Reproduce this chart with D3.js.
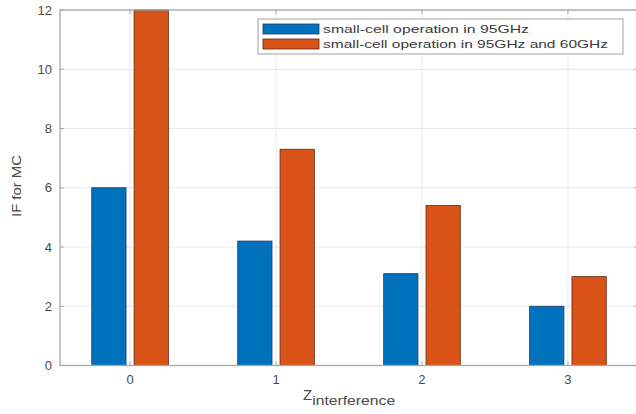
<!DOCTYPE html>
<html>
<head>
<meta charset="utf-8">
<script src="https://cdn.jsdelivr.net/npm/d3@7"></script>
<style>
  body { margin: 0; background: #fff; }
  svg { display: block; font-family: "Liberation Sans", Arial, sans-serif; }
</style>
</head>
<body>
<svg id="chart" width="636" height="414"></svg>
<script>
// data
var categories = [0, 1, 2, 3];
var seriesNames = ["small-cell operation in 95GHz", "small-cell operation in 95GHz and 60GHz"];
var only95 = [6.0, 4.2, 3.1, 2.0];
var with60 = [12.0, 7.3, 5.4, 3.0];
var yTicks = [0, 2, 4, 6, 8, 10, 12];

var colors = ["#0072BD", "#D95319"];
var edges = ["#1f3f5e", "#5e2a12"];

var svg = d3.select("#chart");

var x = d3.scaleLinear().domain([-0.48, 3.48]).range([60, 638]);
var y = d3.scaleLinear().domain([0, 12]).range([365.5, 10]);

var barW = 0.235, offs = [-0.145, 0.145];

// grid
var grid = svg.append("g").attr("class", "grid");
grid.selectAll(".hg").data(yTicks).enter().append("line")
    .attr("x1", x.range()[0]).attr("x2", x.range()[1])
    .attr("y1", d => y(d)).attr("y2", d => y(d))
    .attr("stroke", "#e8e8e8").attr("stroke-width", 1);
grid.selectAll(".vg").data(categories).enter().append("line")
    .attr("x1", d => x(d)).attr("x2", d => x(d))
    .attr("y1", y.range()[0]).attr("y2", y.range()[1])
    .attr("stroke", "#e8e8e8").attr("stroke-width", 1);

// bars
[only95, with60].forEach(function (vals, s) {
    svg.append("g").selectAll("rect")
        .data(vals)
        .enter()
        .append("rect")
        .attr("x", (d, i) => x(categories[i] + offs[s] - barW / 2))
        .attr("width", x(barW) - x(0))
        .attr("y", d => y(d))
        .attr("height", d => y(0) - y(d))
        .attr("fill", colors[s])
        .attr("stroke", edges[s])
        .attr("stroke-width", 0.8);
});

// box + inward ticks
var axisCol = "#a8a8a8";
svg.append("rect")
    .attr("x", x.range()[0]).attr("y", y.range()[1])
    .attr("width", x.range()[1] - x.range()[0])
    .attr("height", y.range()[0] - y.range()[1])
    .attr("fill", "none").attr("stroke", axisCol).attr("stroke-width", 1.3);

var ticks = svg.append("g");
yTicks.forEach(function (t) {
    ticks.append("line").attr("x1", x.range()[0]).attr("x2", x.range()[0] + 4)
        .attr("y1", y(t)).attr("y2", y(t)).attr("stroke", axisCol);
    ticks.append("line").attr("x1", x.range()[1]).attr("x2", x.range()[1] - 4)
        .attr("y1", y(t)).attr("y2", y(t)).attr("stroke", axisCol);
});
categories.forEach(function (c) {
    ticks.append("line").attr("x1", x(c)).attr("x2", x(c))
        .attr("y1", y.range()[0]).attr("y2", y.range()[0] - 4).attr("stroke", axisCol);
    ticks.append("line").attr("x1", x(c)).attr("x2", x(c))
        .attr("y1", y.range()[1]).attr("y2", y.range()[1] + 4).attr("stroke", axisCol);
});

// tick labels
var labCol = "#4a4a4a";
svg.append("g").selectAll("text").data(yTicks).enter().append("text")
    .attr("x", 52).attr("y", d => y(d)).attr("dy", "0.35em")
    .attr("text-anchor", "end").attr("font-size", 13).attr("fill", labCol)
    .text(d => d);
svg.append("g").selectAll("text").data(categories).enter().append("text")
    .attr("x", d => x(d)).attr("y", 384)
    .attr("text-anchor", "middle").attr("font-size", 13).attr("fill", labCol)
    .text(d => d);

// axis titles
var xt = svg.append("text").attr("x", 303).attr("y", 400)
    .attr("font-size", 15).attr("fill", labCol);
xt.append("tspan").text("Z");
xt.append("tspan").attr("dy", 5).attr("font-size", 12)
    .attr("textLength", 83).attr("lengthAdjust", "spacingAndGlyphs").text("interference");

svg.append("text")
    .attr("transform", "translate(21,186) rotate(-90)")
    .attr("text-anchor", "middle").attr("font-size", 13).attr("fill", labCol)
    .attr("textLength", 62).attr("lengthAdjust", "spacingAndGlyphs")
    .text("IF for MC");

// legend
var lg = svg.append("g");
lg.append("rect").attr("x", 258).attr("y", 19).attr("width", 365).attr("height", 35)
    .attr("fill", "#fff").attr("stroke", "#b0b0b0").attr("stroke-width", 1.2);
seriesNames.forEach(function (name, i) {
    var yy = 24 + i * 15;
    lg.append("rect").attr("x", 263).attr("y", yy).attr("width", 56).attr("height", 10)
        .attr("fill", colors[i]).attr("stroke", edges[i]).attr("stroke-width", 0.8);
    lg.append("text").attr("x", 323).attr("y", yy + 9)
        .attr("font-size", 11.5).attr("fill", "#3a3a3a")
        .attr("textLength", i == 0 ? 206 : 285).attr("lengthAdjust", "spacingAndGlyphs")
        .text(name);
});
</script>
</body>
</html>
